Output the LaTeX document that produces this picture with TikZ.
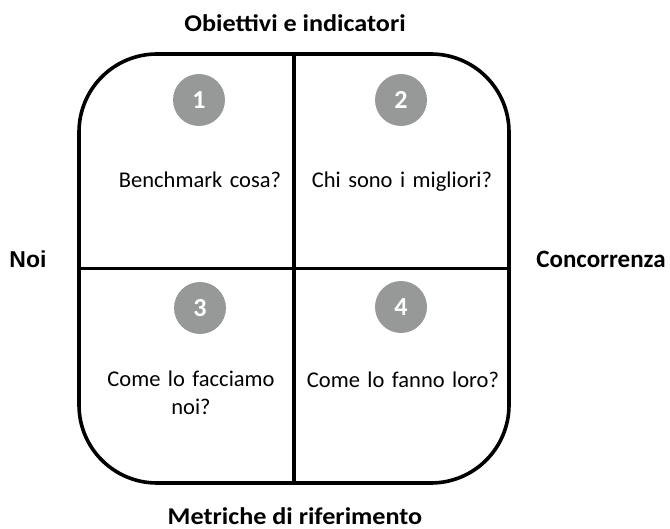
\documentclass[tikz,border=0pt]{standalone}
\usepackage{fontspec}
\setmainfont{Carlito}
\newfontfamily\widebold[FakeStretch=1.09]{Carlito}
\newfontfamily\arialfont{Liberation Sans}
\definecolor{numgray}{RGB}{151,153,153}
\begin{document}
\begin{tikzpicture}[x=1pt,y=-1pt,
  frame/.style={draw=black,line width=3.6pt},
  numcirc/.style={circle,fill=numgray,minimum size=52pt,inner sep=0pt,text=white,font=\fontsize{26}{30}\selectfont\bfseries},
  qtext/.style={font=\fontsize{22.5}{27.7}\selectfont,align=center,text width=200pt,inner sep=0pt,anchor=base},
  axis/.style={font=\widebold\fontsize{24}{30}\selectfont\bfseries,inner sep=0pt,anchor=base}]
\useasboundingbox (0,0) rectangle (670,529);
\node[frame,rounded corners=78pt,minimum width=430pt,minimum height=429pt,inner sep=0pt] (box) at (294,268.5) {};
\draw[frame] (box.north) -- (box.south);
\draw[frame] (box.west) -- (box.east);
\node[numcirc] (n1) at (199,100) {1};
\node[numcirc] (n2) at (401,100) {2};
\node[numcirc] (n3) at (200,308) {3};
\node[numcirc] (n4) at (401,307) {4};
\node[qtext] (q1) at (200,188) {Benchmark cosa?};
\node[qtext] (q2) at (402,188) {Chi sono i migliori?};
\node[qtext] (q3) at (191,387) {Come lo facciamo\\noi?};
\node[qtext] (q4) at (403,388) {Come lo fanno loro?};
\node[axis] (top) at (295,32) {Obiettivi e indicatori};
\node[axis] (bot) at (295,524) {Metriche di riferimento};
\node[axis,font=\arialfont\fontsize{23}{27}\selectfont\bfseries] (left) at (28,268) {Noi};
\node[axis,font=\fontsize{25}{30}\selectfont\bfseries] (right) at (601,268) {Concorrenza};
\end{tikzpicture}
\end{document}
